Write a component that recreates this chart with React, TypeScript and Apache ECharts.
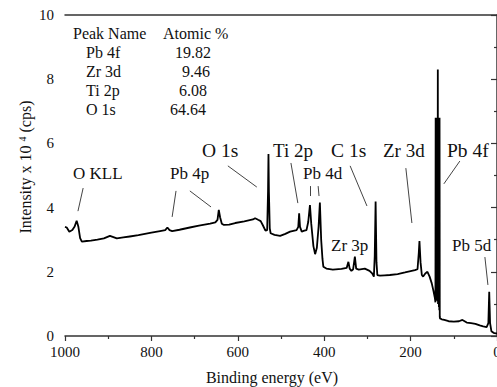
import React, { useEffect, useRef } from "react";
import * as echarts from "echarts";

// Binding energy (eV) and intensity (x10^4 cps)
const energies = [
  1000, 996, 990, 983, 978, 973, 969, 965, 961, 950, 940, 925, 910, 896, 888, 880, 865, 850, 830, 815,
  800, 780, 768, 763, 758, 752, 735, 711, 690, 664, 652, 647, 644, 641, 637, 632, 620, 606, 585, 565,
  560, 553, 547, 542, 536, 532, 530, 529, 528, 526, 524, 515, 502, 490, 479, 464, 460, 458, 456, 452,
  446, 441, 437, 433, 430, 425, 421, 417, 413, 410, 407, 404, 402, 395, 380, 360, 348, 344, 341, 337,
  333, 329, 326, 320, 306, 295, 289, 285, 283, 281, 279, 277, 271, 260, 248, 230, 213, 200, 190, 184,
  181, 179.5, 177, 174, 171, 166, 161, 156, 151, 147, 144, 142.5,
  142, 141.5, 141, 140.5, 140, 139.5, 139, 138.5, 138, 137.5, 137, 136.5, 136, 135.5, 135, 134.5, 134, 133.5, 133,
  132.5, 132, 128, 122, 112, 100, 88, 80, 76, 70, 60, 50, 40, 32, 24, 20, 18, 16, 13, 8,
  3, 0,
];
const intensities = [
  3.40, 3.38, 3.25, 3.30, 3.40, 3.59, 3.40, 3.05, 2.94, 2.96, 2.97, 3.00, 3.04, 3.12, 3.08, 3.04, 3.07, 3.10, 3.14, 3.18,
  3.22, 3.27, 3.30, 3.38, 3.30, 3.27, 3.31, 3.38, 3.44, 3.50, 3.54, 3.62, 3.93, 3.70, 3.50, 3.46, 3.47, 3.52, 3.57, 3.63,
  3.67, 3.62, 3.58, 3.45, 3.28, 3.30, 4.50, 5.67, 4.50, 3.35, 3.20, 3.15, 3.12, 3.18, 3.25, 3.30, 3.40, 3.82, 3.40, 3.25,
  3.28, 3.30, 3.55, 4.08, 3.50, 2.80, 2.55, 2.75, 3.40, 4.16, 3.00, 2.40, 2.16, 2.10, 2.07, 2.09, 2.12, 2.31, 2.10, 2.03,
  2.08, 2.47, 2.10, 2.07, 2.10, 2.03, 1.95, 1.85, 2.50, 4.19, 2.30, 1.90, 1.88, 1.89, 1.90, 1.93, 1.98, 2.02, 2.05, 2.08,
  2.60, 2.96, 2.30, 1.90, 1.85, 1.95, 2.00, 1.85, 1.64, 1.40, 1.20, 1.05,
  6.80, 1.10, 6.80, 1.10, 6.80, 1.10, 6.80, 1.10, 6.80, 1.10, 8.30, 1.00, 6.80, 1.00, 6.80, 0.90, 6.80, 0.80, 6.80,
  0.60, 0.55, 0.52, 0.50, 0.46, 0.45, 0.46, 0.50, 0.47, 0.42, 0.40, 0.38, 0.33, 0.30, 0.28, 0.40, 1.38, 0.40, 0.15, 0.10,
  0.08, 0.08,
];

const xTicks = [0, 200, 400, 600, 800, 1000];
const yTicks = [0, 2, 4, 6, 8, 10];

const tableHeader = ["Peak Name", "Atomic %"];
const peakNames = ["Pb 4f", "Zr 3d", "Ti 2p", "O 1s"];
const atomicPct = ["19.82", "9.46", "6.08", "64.64"];

const peakLabels = ["O KLL", "Pb 4p", "O 1s", "Ti 2p", "Pb 4d", "C 1s", "Zr 3d", "Pb 4f", "Zr 3p", "Pb 5d"];

// arrows: [fromBE, fromI, toBE, toI]
const arrows = [
  [958, 4.61, 970, 3.89],
  [743, 4.52, 752, 3.71],
  [711, 4.52, 662, 4.02],
  [623, 5.30, 556, 4.64],
  [477, 5.39, 461, 4.14],
  [433, 4.67, 433, 4.36],
  [414, 4.67, 412, 4.36],
  [340, 5.30, 301, 4.05],
  [211, 5.23, 197, 3.52],
  [86, 5.45, 123, 4.74],
  [28, 2.46, 21, 1.59],
];

const FONT = "Liberation Serif";

// layout for labels (pixel positions: left, centerY, fontSize)
const labelLayout = [
  [73, 173, 17],
  [170, 173, 17],
  [202, 150, 19.5],
  [273, 150, 19],
  [303, 173, 17],
  [331, 150, 19.5],
  [383, 150, 19],
  [447, 150, 19.5],
  [331, 245, 17],
  [452, 245, 17],
];
const nameLeft = 86;
const pctLeft = [175, 182, 179, 170];
const rowY = [52, 71, 90, 109];

function txt(x: number, y: number, text: string, size: number, extra: any = {}) {
  return {
    type: "text", x, y,
    style: { text, fontFamily: FONT, fontSize: size, fill: "#111", verticalAlign: "middle", ...extra },
  };
}

export default function App() {
  const ref = useRef<HTMLDivElement>(null);
  useEffect(() => {
    if (!ref.current) return;
    const chart = echarts.init(ref.current, undefined, { renderer: "svg" });
    const data = energies.map((e, i) => [e, intensities[i]]);
    const graphics: any[] = [];
    graphics.push(txt(73, 33, tableHeader[0], 16));
    graphics.push(txt(163, 33, tableHeader[1], 16));
    peakNames.forEach((n, i) => {
      graphics.push(txt(nameLeft, rowY[i], n, 16));
      graphics.push(txt(pctLeft[i], rowY[i], atomicPct[i], 16));
    });
    peakLabels.forEach((t, i) => {
      const [lx, ly, fs] = labelLayout[i];
      graphics.push(txt(lx, ly, t, fs));
    });
    graphics.push(txt(272, 377, "Binding energy (eV)", 16, { align: "center" }));
    graphics.push({
      type: "text", x: 25, y: 167, rotation: Math.PI / 2,
      style: {
        text: "Intensity x 10 {sup|4} (cps)",
        fontFamily: FONT, fontSize: 16, fill: "#111", align: "center", verticalAlign: "middle",
        rich: { sup: { fontSize: 10, fontFamily: FONT, verticalAlign: "top", fill: "#111" } },
      },
    });

    const axisLine = { show: true, lineStyle: { color: "#333", width: 1.5 } };
    chart.setOption({
      animation: false,
      grid: { left: 65, right: 0, top: 15, bottom: 51, outerBoundsMode: "none", containLabel: false },
      xAxis: [
        {
          type: "value", min: 0, max: 1000, interval: 200, inverse: true,
          axisLine, axisTick: { show: true, inside: false, length: 5, lineStyle: { color: "#333", width: 1.2 } },
          minorTick: { show: true, splitNumber: 2, length: 3, lineStyle: { color: "#333", width: 1.2 } },
          splitLine: { show: false },
          axisLabel: { margin: 8, color: "#111", fontSize: 15, fontFamily: FONT, hideOverlap: false, formatter: (v: number) => (xTicks.includes(v) ? String(v) : "") },
        },
        {
          type: "value", min: 0, max: 1000, inverse: true, position: "top",
          axisLine, axisTick: { show: false }, axisLabel: { show: false }, splitLine: { show: false },
        },
      ],
      yAxis: {
        type: "value", min: 0, max: 10, interval: 2,
        axisLine, axisTick: { show: true, inside: false, length: 6, lineStyle: { color: "#333", width: 1.2 } },
        minorTick: { show: true, splitNumber: 2, length: 3, lineStyle: { color: "#333", width: 1.2 } },
        splitLine: { show: false },
        axisLabel: { margin: 11, color: "#111", fontSize: 15, fontFamily: FONT, formatter: (v: number) => (yTicks.includes(v) ? String(v) : "") },
      },
      series: [
        {
          type: "line", data, showSymbol: false, symbol: "none",
          lineStyle: { color: "#000", width: 1.8 },
          markLine: {
            silent: true, animation: false, symbolSize: [0, 7],
            lineStyle: { color: "#444", width: 1, type: "solid" },
            label: { show: false },
            data: arrows.map((a) => [
              { coord: [a[0], a[1]], symbol: "none" },
              { coord: [a[2], a[3]], symbol: "arrow" },
            ]),
          },
        },
      ],
      graphic: graphics,
    });
    return () => chart.dispose();
  }, []);
  return <div ref={ref} style={{ width: 497, height: 387, position: "absolute", left: 0, top: 0 }} />;
}
